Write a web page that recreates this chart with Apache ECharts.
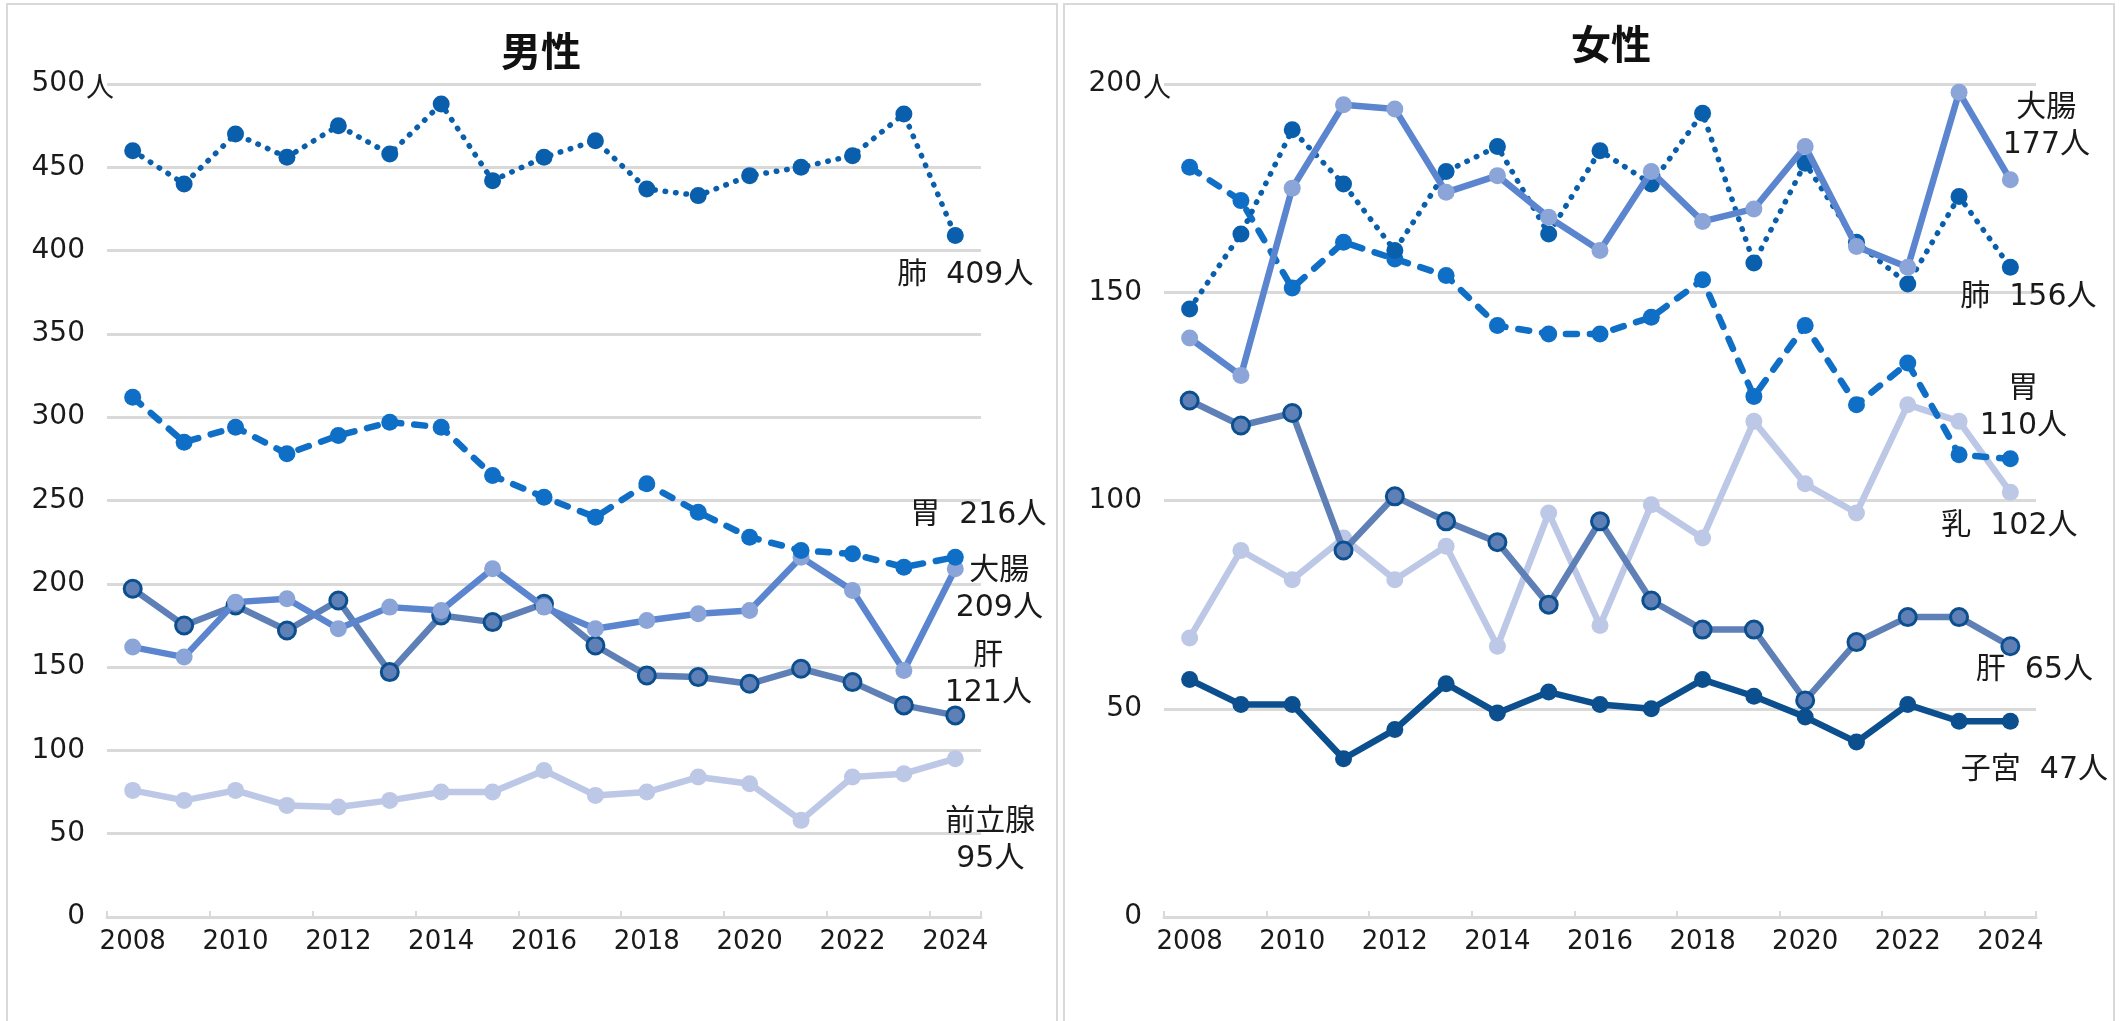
<!DOCTYPE html>
<html>
<head>
<meta charset="utf-8">
<title>部位別がん死亡数</title>
<script src="https://cdn.jsdelivr.net/npm/echarts@6/dist/echarts.min.js"></script>
<style>
  html, body { margin: 0; padding: 0; background: #fff; }
  #main { width: 2125px; height: 1021px; }
</style>
</head>
<body>
<div id="main"></div>
<script>
// 年（横軸）
const years = ['2008', '2009', '2010', '2011', '2012', '2013', '2014', '2015', '2016',
  '2017', '2018', '2019', '2020', '2021', '2022', '2023', '2024'];

// 男性
const maleLung = [460, 440, 470, 456, 475, 458, 488, 442, 456, 466, 437, 433, 445, 450, 457, 482, 409];
const maleStomach = [312, 285, 294, 278, 289, 297, 294, 265, 252, 240, 260, 243, 228, 220, 218, 210, 216];
const maleColon = [162, 156, 189, 191, 173, 186, 184, 209, 186, 173, 178, 182, 184, 216, 196, 148, 209];
const maleLiver = [197, 175, 187, 172, 190, 147, 181, 177, 188, 163, 145, 144, 140, 149, 141, 127, 121];
const maleProstate = [76, 70, 76, 67, 66, 70, 75, 75, 88, 73, 75, 84, 80, 58, 84, 86, 95];

// 女性
const femaleColon = [139, 130, 175, 195, 194, 174, 178, 168, 160, 179, 167, 170, 185, 161, 156, 198, 177];
const femaleLung = [146, 164, 189, 176, 160, 179, 185, 164, 184, 176, 193, 157, 181, 162, 152, 173, 156];
const femaleStomach = [180, 172, 151, 162, 158, 154, 142, 140, 140, 144, 153, 125, 142, 123, 133, 111, 110];
const femaleBreast = [67, 88, 81, 91, 81, 89, 65, 97, 70, 99, 91, 119, 104, 97, 123, 119, 102];
const femaleLiver = [124, 118, 121, 88, 101, 95, 90, 75, 95, 76, 69, 69, 52, 66, 72, 72, 65];
const femaleUterus = [57, 51, 51, 38, 45, 56, 49, 54, 51, 50, 57, 53, 48, 42, 51, 47, 47];

// 軸の目盛り
const maleMax = 500;
const femaleMax = 200;
const tickStep = 50;

const C = {
  lung: '#0a5fad',
  stomach: '#0f6fc6',
  colonLine: '#5b86cf',
  colonDot: '#8ba5d8',
  liver: '#5f80b6',
  liverEdge: '#0c4f8e',
  light: '#bcc8e6',
  uterus: '#0b4f8f',
  grid: '#d9d9d9',
  text: '#1a1a1a'
};

const numFont = "'DejaVu Sans', 'Noto Sans CJK JP', sans-serif";

// 最後の点に系列名と人数を付ける
function endLabeled(values, text, offset) {
  return values.map((v, i) => {
    if (i < values.length - 1) return v;
    return {
      value: v,
      label: {
        show: true,
        position: 'inside',
        formatter: text,
        offset: offset,
        fontFamily: numFont,
        fontSize: 30,
        lineHeight: 37,
        align: 'center',
        color: C.text
      }
    };
  });
}

function lineSeries(axis, data, opt) {
  return {
    type: 'line',
    xAxisIndex: axis,
    yAxisIndex: axis,
    data: data,
    symbol: 'circle',
    symbolSize: opt.size || 17,
    showAllSymbol: true,
    lineStyle: {
      width: opt.width || 6.5,
      color: opt.color,
      type: opt.type || 'solid',
      cap: opt.cap || 'butt',
      join: 'round'
    },
    itemStyle: {
      color: opt.dot || opt.color,
      borderColor: opt.edge || opt.dot || opt.color,
      borderWidth: opt.edge ? 3 : 0
    },
    z: opt.z || 2,
    emphasis: { disabled: true },
    animation: false
  };
}

function xAxisFor(gridIndex) {
  return {
    type: 'category',
    gridIndex: gridIndex,
    data: years,
    boundaryGap: true,
    axisLine: { lineStyle: { color: C.grid, width: 3 } },
    axisTick: { show: true, inside: true, length: 6, lineStyle: { color: C.grid, width: 2 } },
    axisLabel: { interval: 1, margin: 12, fontFamily: numFont, fontSize: 26, color: C.text },
    splitLine: { show: false }
  };
}

function yAxisFor(gridIndex, max) {
  return {
    type: 'value',
    gridIndex: gridIndex,
    min: 0,
    max: max,
    interval: tickStep,
    axisLine: { show: false },
    axisTick: { show: false },
    axisLabel: { margin: 22, fontFamily: numFont, fontSize: 28, color: C.text },
    splitLine: { lineStyle: { color: C.grid, width: 3 } }
  };
}

const chart = echarts.init(document.getElementById('main'));

const option = {
  backgroundColor: '#fff',
  animation: false,
  title: [
    { text: '男性', left: 541, top: 31, textAlign: 'center', padding: 0,
      textStyle: { fontFamily: "'Noto Sans CJK JP'", fontWeight: 'bold', fontSize: 40, color: '#111' } },
    { text: '女性', left: 1611, top: 24, textAlign: 'center', padding: 0,
      textStyle: { fontFamily: "'Noto Sans CJK JP'", fontWeight: 'bold', fontSize: 40, color: '#111' } }
  ],
  grid: [
    { left: 107, right: 1144, top: 84, bottom: 104 },
    { left: 1164, right: 89, top: 84, bottom: 104 }
  ],
  xAxis: [xAxisFor(0), xAxisFor(1)],
  yAxis: [yAxisFor(0, maleMax), yAxisFor(1, femaleMax)],
  graphic: [
    { type: 'rect', z: -1, shape: { x: 7, y: 4, width: 1050, height: 1040 },
      style: { fill: 'none', stroke: '#d9d9d9', lineWidth: 2 } },
    { type: 'rect', z: -1, shape: { x: 1064, y: 4, width: 1050, height: 1040 },
      style: { fill: 'none', stroke: '#d9d9d9', lineWidth: 2 } },
    { type: 'text', x: 86, y: 86, z: 10,
      style: { text: '人', fontFamily: "'Noto Sans CJK JP'", fontSize: 28, fill: C.text, textVerticalAlign: 'middle' } },
    { type: 'text', x: 1143, y: 86, z: 10,
      style: { text: '人', fontFamily: "'Noto Sans CJK JP'", fontSize: 28, fill: C.text, textVerticalAlign: 'middle' } }
  ],
  series: [
    // 男性
    lineSeries(0, endLabeled(maleProstate, '前立腺\n95人', [35, 82]), { color: C.light, z: 2 }),
    lineSeries(0, endLabeled(maleLiver, '肝\n121人', [33, -41]), { color: C.liver, edge: C.liverEdge, z: 3 }),
    lineSeries(0, endLabeled(maleColon, '大腸\n209人', [44, 21]), { color: C.colonLine, dot: C.colonDot, z: 4 }),
    lineSeries(0, endLabeled(maleStomach, '胃  216人', [23, -42]), { color: C.stomach, type: [11, 13], cap: 'round', width: 6.5, z: 5 }),
    lineSeries(0, endLabeled(maleLung, '肺  409人', [10, 40]), { color: C.lung, type: [0.5, 10], cap: 'round', width: 5.5, z: 6 }),
    // 女性
    lineSeries(1, endLabeled(femaleUterus, '子宮  47人', [24, 49]), { color: C.uterus, z: 2 }),
    lineSeries(1, endLabeled(femaleBreast, '乳  102人', [-1, 34]), { color: C.light, z: 3 }),
    lineSeries(1, endLabeled(femaleLiver, '肝  65人', [24, 24]), { color: C.liver, edge: C.liverEdge, z: 4 }),
    lineSeries(1, endLabeled(femaleStomach, '胃\n110人', [13, -51]), { color: C.stomach, type: [11, 13], cap: 'round', width: 6.5, z: 5 }),
    lineSeries(1, endLabeled(femaleLung, '肺  156人', [18, 30]), { color: C.lung, type: [0.5, 10], cap: 'round', width: 5.5, z: 6 }),
    lineSeries(1, endLabeled(femaleColon, '大腸\n177人', [36, -53]), { color: C.colonLine, dot: C.colonDot, z: 7 })
  ]
};

chart.setOption(option);
</script>
</body>
</html>
